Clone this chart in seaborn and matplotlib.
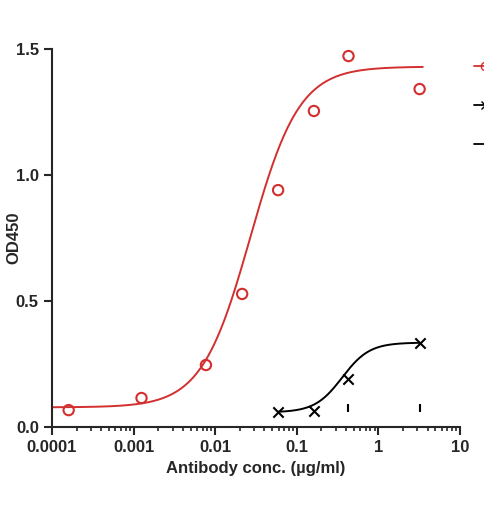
import numpy as np
import matplotlib
matplotlib.use("Agg")
import matplotlib.pyplot as plt
import seaborn as sns
from matplotlib.lines import Line2D

red_x = [1.6e-4, 0.00125, 0.0077, 0.0214, 0.059, 0.162, 0.43, 3.2]
red_y = [0.067, 0.115, 0.246, 0.528, 0.94, 1.254, 1.472, 1.341]
blk_x = [0.059, 0.162, 0.43, 3.2]
blk_y = [0.06, 0.063, 0.19, 0.333]
neg_x = [0.43, 3.2]
neg_y = [0.075, 0.075]
x_ticks = [0.0001, 0.001, 0.01, 0.1, 1, 10]
x_labels = ["0.0001", "0.001", "0.01", "0.1", "1", "10"]

def fourpl(x, b, t, ec, h):
    return b + (t - b) / (1 + (ec / x) ** h)

sns.set_style("ticks")
plt.rcParams['font.family'] = ['Liberation Sans', 'DejaVu Sans']
fig = plt.figure(figsize=(4.85, 5.08), dpi=100)
ax = fig.add_axes([52/485, 1-427/508, 408/485, 378/508])

xr = np.logspace(np.log10(1.0e-4), np.log10(3.5), 300)
ax.plot(xr, fourpl(xr, 0.078, 1.43, 0.027, 1.45), color="#d32f2f", lw=1.4)
xb = np.logspace(np.log10(0.059), np.log10(3.2), 200)
ax.plot(xb, fourpl(xb, 0.058, 0.335, 0.36, 2.6), color="black", lw=1.4)

sns.scatterplot(x=red_x, y=red_y, ax=ax, marker="o", s=55, facecolor="none",
                edgecolor="#d32f2f", linewidth=1.5, zorder=3)
sns.scatterplot(x=blk_x, y=blk_y, ax=ax, marker="x", s=55, color="black", linewidth=1.5, zorder=3)
sns.scatterplot(x=neg_x, y=neg_y, ax=ax, marker="|", s=40, color="black", linewidth=1.5, zorder=3)

ax.set_xscale("log")
ax.set_xlim(1e-4, 10)
ax.set_ylim(0, 1.5)
ax.set_xticks(x_ticks)
ax.set_xticklabels(x_labels)
ax.set_yticks([0, 0.5, 1.0, 1.5])
ax.set_yticklabels(["0.0", "0.5", "1.0", "1.5"])
ax.tick_params(axis="both", labelsize=12, width=1.5, length=6, direction="out")
ax.tick_params(axis="x", which="minor", width=1.2, length=3)
for l in ax.get_xticklabels() + ax.get_yticklabels():
    l.set_fontweight("bold")
for s in ["left", "bottom"]:
    ax.spines[s].set_linewidth(1.5)
sns.despine(ax=ax)
ax.set_xlabel("Antibody conc. (µg/ml)", fontsize=12, fontweight="bold")
ax.set_ylabel("OD450", fontsize=12, fontweight="bold", labelpad=2)
ax.yaxis.set_label_coords(-0.075, 0.5)

h = [Line2D([], [], color="#d32f2f", marker="o", mfc="none", lw=1.3),
     Line2D([], [], color="black", marker="x", lw=1.3),
     Line2D([], [], color="black", lw=1.3)]
fig.legend(h, ["hIgG1", "hIgG2", "ctrl"], loc="upper left", bbox_to_anchor=(462/485, 1-47/508),
           frameon=False, labelspacing=1.8, handlelength=1.5, handletextpad=0.4)
fig.savefig("out.png", dpi=100)
